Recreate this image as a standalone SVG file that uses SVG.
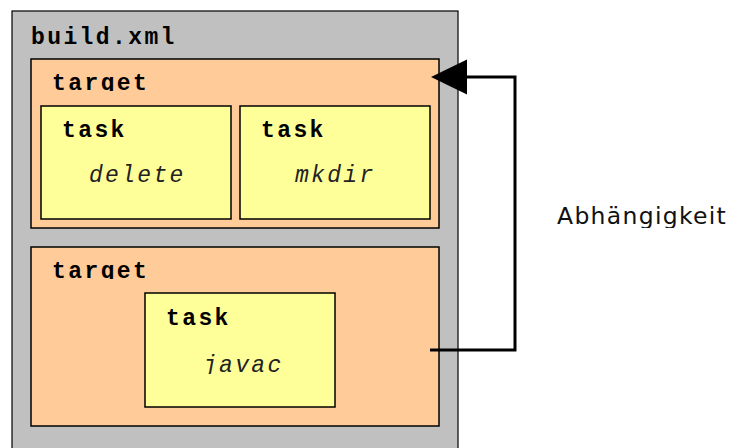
<svg xmlns="http://www.w3.org/2000/svg" width="734" height="448" viewBox="0 0 734 448">
<style>
.file{fill:#c0c0c0;stroke:#000;stroke-width:1.2}
.target{fill:#ffcc99;stroke:#000;stroke-width:1.5}
.task{fill:#ffff99;stroke:#000;stroke-width:1.5}
.lbl{font-family:"Liberation Mono","Courier New",monospace;font-size:23px;font-weight:bold;letter-spacing:2.4px;fill:#000}
.op{font-family:"Liberation Mono","Courier New",monospace;font-size:23px;font-style:italic;letter-spacing:2.3px;fill:#222}
.dep{font-family:"DejaVu Sans",Verdana,sans-serif;font-size:23.5px;letter-spacing:1.3px;fill:#111}
.conn{fill:none;stroke:#000;stroke-width:3}
</style>
<defs>
<marker id="ah" markerUnits="userSpaceOnUse" markerWidth="36" markerHeight="36" viewBox="0 0 36 36" refX="0" refY="17.5" orient="auto">
<path d="M0,0 L36,17.5 L0,35 Z" fill="#000"/>
</marker>
<clipPath id="c1"><rect x="31" y="59" width="408" height="32"/></clipPath>
<clipPath id="c2"><rect x="31" y="247" width="408" height="32"/></clipPath>
<clipPath id="c3"><rect x="41" y="106" width="390" height="77"/></clipPath>
<clipPath id="c4"><rect x="145" y="293" width="190" height="81"/></clipPath>
<clipPath id="c5"><rect x="540" y="190" width="194" height="38"/></clipPath>
</defs>
<g id="build-xml">
<rect class="file" x="12" y="11" width="446" height="460"/>
<text class="lbl" x="31" y="44">build.xml</text>
</g>
<g id="target-1">
<rect class="target" x="31" y="59" width="408" height="169"/>
<text class="lbl" x="52" y="90" clip-path="url(#c1)">target</text>
</g>
<g id="task-delete">
<rect class="task" x="41" y="106" width="190" height="113"/>
<text class="lbl" x="62" y="137">task</text>
<text class="op" x="89" y="182" clip-path="url(#c3)">delete</text>
</g>
<g id="task-mkdir">
<rect class="task" x="240" y="106" width="190" height="113"/>
<text class="lbl" x="261" y="137">task</text>
<text class="op" x="295" y="182" clip-path="url(#c3)">mkdir</text>
</g>
<g id="target-2">
<rect class="target" x="31" y="247" width="408" height="179"/>
<text class="lbl" x="52" y="278" clip-path="url(#c2)">target</text>
</g>
<g id="task-javac">
<rect class="task" x="145" y="293" width="190" height="114"/>
<text class="lbl" x="166" y="325">task</text>
<text class="op" x="203" y="372" clip-path="url(#c4)">javac</text>
</g>
<g id="connectors">
<path class="conn" d="M430,350 H515 V77 H467" marker-end="url(#ah)"/>
</g>
<g id="label-dep">
<text class="dep" x="557" y="224" clip-path="url(#c5)">Abhängigkeit</text>
</g>
</svg>
